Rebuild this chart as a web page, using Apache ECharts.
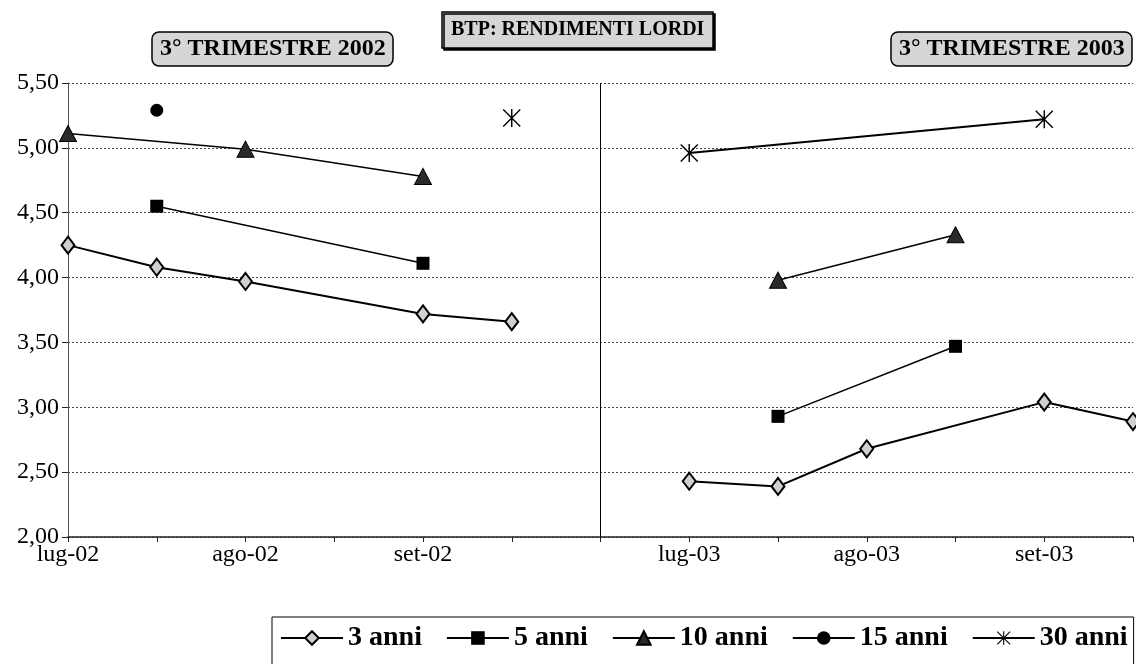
<!DOCTYPE html>
<html>
<head>
<meta charset="utf-8">
<script src="https://cdn.jsdelivr.net/npm/echarts@6/dist/echarts.min.js"></script>
<style>
  body { margin: 0; background: #fff; }
  #main { width: 1136px; height: 664px; }
</style>
</head>
<body>
<div id="main"></div>
<script>
// categorie (mezzi mesi); la colonna 6 e' il separatore fra i due trimestri
const categories = ["lug-02", "", "ago-02", "", "set-02", "", "", "lug-03", "", "ago-03", "", "set-03", ""];
const splitIndex = 6;

const anni3 = [4.25, 4.08, 3.97, null, 3.72, 3.66, null, 2.43, 2.39, 2.68, null, 3.04, 2.89];
const anni5 = [null, 4.55, null, null, 4.11, null, null, null, 2.93, null, 3.47, null, null];
const anni10 = [5.11, null, 4.99, null, 4.78, null, null, null, 3.98, null, 4.33, null, null];
const anni15 = [null, 5.29, null, null, null, null, null, null, null, null, null, null, null];
const anni30 = [null, null, null, null, null, 5.23, null, 4.96, null, null, null, 5.22, null];

const serif = "Liberation Serif";
const asterisk = "path://M9.2 0L10.8 0L10.8 20L9.2 20Z M1.1 0L20 18.9L18.9 20L0 1.1Z M18.9 0L20 1.1L1.1 20L0 18.9Z";

const styles = [
  { name: "3 anni", data: anni3, symbol: "diamond", symbolSize: [13, 17], width: 2,
    item: { color: "#d0d0d0", borderColor: "#000", borderWidth: 2 } },
  { name: "5 anni", data: anni5, symbol: "rect", symbolSize: 13, width: 1.5,
    item: { color: "#000" } },
  { name: "10 anni", data: anni10, symbol: "triangle", symbolSize: [17, 16], width: 1.5,
    item: { color: "#2a2a2a", borderColor: "#000", borderWidth: 1 } },
  { name: "15 anni", data: anni15, symbol: "circle", symbolSize: 13, width: 1.5,
    item: { color: "#000" } },
  { name: "30 anni", data: anni30, symbol: asterisk, symbolSize: 18, width: 2,
    item: { color: "#000" } },
];

const half = (arr, left) => arr.map((v, i) => (left ? i < splitIndex : i > splitIndex) ? v : null);

const series = [];
styles.forEach((s) => {
  [true, false].forEach((left) => {
    series.push({
      name: s.name,
      type: "line",
      data: half(s.data, left),
      connectNulls: true,
      symbol: s.symbol,
      symbolSize: s.symbolSize,
      showAllSymbol: true,
      lineStyle: { color: "#000", width: s.width },
      itemStyle: s.item,
      emphasis: { disabled: true },
      animation: false,
    });
  });
});

// linea verticale di separazione
series[0].markLine = {
  silent: true,
  symbol: "none",
  label: { show: false },
  lineStyle: { color: "#000", width: 1, type: "solid" },
  data: [{ xAxis: splitIndex }],
};

const boxTitle = (text, left, top, size, pad, radius) => ({
  text: text,
  left: left,
  top: top,
  padding: pad,
  backgroundColor: "#d6d6d6",
  borderColor: "#000",
  borderWidth: 1.5,
  borderRadius: radius,
  textStyle: { fontFamily: serif, fontWeight: "bold", fontSize: size, color: "#000" },
});

const chart = echarts.init(document.getElementById("main"));
chart.setOption({
  animation: false,
  title: [
    Object.assign(boxTitle("BTP: RENDIMENTI LORDI", 442, 12, 20, [8, 9], 0),
      { shadowColor: "#000", shadowOffsetX: 2, shadowOffsetY: 2, shadowBlur: 0 }),
    boxTitle("3° TRIMESTRE 2002", 152, 32, 24, [5, 8], 7),
    boxTitle("3° TRIMESTRE 2003", 891, 32, 24, [5, 8], 7),
  ],
  legend: {
    data: styles.map((s) => s.name),
    left: 272,
    top: 617,
    padding: [7, 6, 14, 8],
    itemWidth: 62,
    itemHeight: 17,
    itemGap: 24,
    borderColor: "#000",
    borderWidth: 1,
    textStyle: { fontFamily: serif, fontWeight: "bold", fontSize: 28, color: "#000" },
  },
  grid: { left: 68, right: 2, top: 83, bottom: 127 },
  xAxis: {
    type: "category",
    data: categories,
    boundaryGap: false,
    axisLine: { lineStyle: { color: "#222", width: 1.5 } },
    axisTick: { interval: 0, length: 5, lineStyle: { color: "#222" } },
    axisLabel: { interval: 0, fontFamily: serif, fontSize: 24, color: "#000", margin: 6 },
    splitLine: { show: false },
  },
  yAxis: {
    type: "value",
    min: 2,
    max: 5.5,
    interval: 0.5,
    axisLine: { show: true, lineStyle: { color: "#555", width: 1 } },
    axisTick: { show: true, length: 6, lineStyle: { color: "#222" } },
    axisLabel: {
      fontFamily: serif,
      fontSize: 24,
      color: "#000",
      margin: 9,
      formatter: (v) => v.toFixed(2).replace(".", ","),
    },
    splitLine: { lineStyle: { color: "#444", width: 1, type: [2, 2] } },
  },
  series: series,
});
</script>
</body>
</html>
